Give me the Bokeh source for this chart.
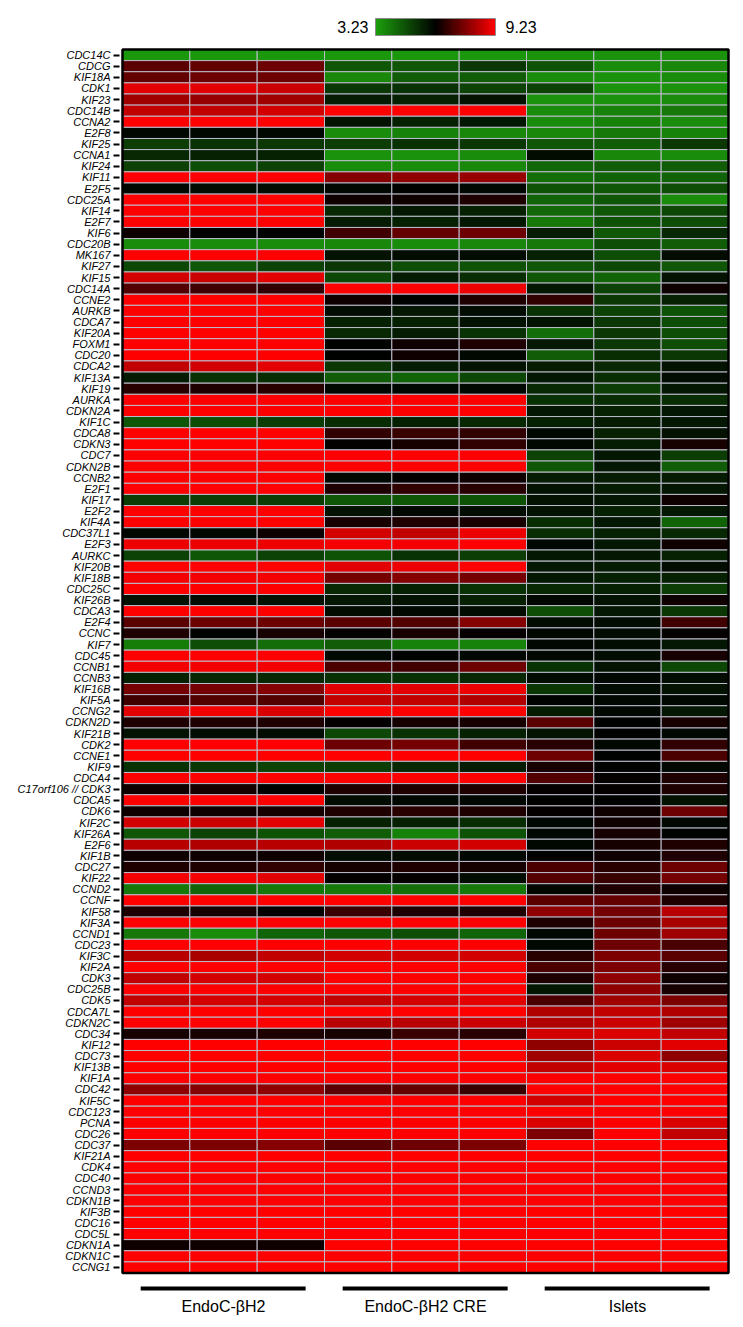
import numpy as np
from bokeh.plotting import figure
from bokeh.models import Range1d, FixedTicker, LinearColorMapper, ColumnDataSource
from bokeh.transform import transform
from bokeh.embed import file_html
from bokeh.resources import INLINE
from bokeh.core.properties import value

genes = ["CDC14C", "CDCG", "KIF18A", "CDK1", "KIF23", "CDC14B", "CCNA2", "E2F8", "KIF25", "CCNA1",
         "KIF24", "KIF11", "E2F5", "CDC25A", "KIF14", "E2F7", "KIF6", "CDC20B", "MK167", "KIF27",
         "KIF15", "CDC14A", "CCNE2", "AURKB", "CDCA7", "KIF20A", "FOXM1", "CDC20", "CDCA2", "KIF13A",
         "KIF19", "AURKA", "CDKN2A", "KIF1C", "CDCA8", "CDKN3", "CDC7", "CDKN2B", "CCNB2", "E2F1",
         "KIF17", "E2F2", "KIF4A", "CDC37L1", "E2F3", "AURKC", "KIF20B", "KIF18B", "CDC25C", "KIF26B",
         "CDCA3", "E2F4", "CCNC", "KIF7", "CDC45", "CCNB1", "CCNB3", "KIF16B", "KIF5A", "CCNG2",
         "CDKN2D", "KIF21B", "CDK2", "CCNE1", "KIF9", "CDCA4", "C17orf106 // CDK3", "CDCA5", "CDK6", "KIF2C",
         "KIF26A", "E2F6", "KIF1B", "CDC27", "KIF22", "CCND2", "CCNF", "KIF58", "KIF3A", "CCND1",
         "CDC23", "KIF3C", "KIF2A", "CDK3", "CDC25B", "CDK5", "CDCA7L", "CDKN2C", "CDC34", "KIF12",
         "CDC73", "KIF13B", "KIF1A", "CDC42", "KIF5C", "CDC123", "PCNA", "CDC26", "CDC37", "KIF21A",
         "CDK4", "CDC40", "CCND3", "CDKN1B", "KIF3B", "CDC16", "CDC5L", "CDKN1A", "CDKN1C", "CCNG1"]

endoc_bh2 = [
    (3.4, 3.4, 3.4), (7.3, 7.4, 7.5), (7.4, 7.5, 7.5), (8.9, 8.9, 8.6), (8.1, 8.0, 8.1),
    (8.5, 8.5, 8.7), (9.5, 9.5, 9.5), (6.1, 6.1, 6.1), (5.1, 5.3, 5.2), (5.5, 5.6, 5.6),
    (5.0, 4.8, 5.0), (9.5, 9.5, 9.5), (6.1, 6.0, 6.0), (9.5, 9.5, 9.5), (9.5, 9.5, 9.5),
    (9.5, 9.5, 9.5), (6.4, 6.2, 6.2), (3.6, 3.6, 3.6), (9.5, 9.5, 9.5), (4.9, 4.6, 5.0),
    (8.7, 8.6, 8.9), (7.2, 7.0, 6.8), (9.5, 9.5, 9.5), (9.5, 9.5, 9.5), (9.5, 9.5, 9.5),
    (9.5, 9.5, 9.5), (9.5, 9.5, 9.5), (9.5, 9.5, 9.5), (8.5, 8.7, 8.9), (5.7, 5.3, 5.4),
    (6.7, 6.6, 6.7), (9.5, 9.5, 9.5), (9.5, 9.5, 9.5), (4.6, 4.8, 5.1), (9.5, 9.5, 9.5),
    (9.5, 9.5, 9.5), (9.5, 9.5, 9.5), (9.5, 9.5, 9.5), (9.5, 9.5, 9.5), (9.5, 9.5, 9.5),
    (5.1, 5.1, 5.1), (9.5, 9.5, 9.5), (9.5, 9.5, 9.5), (6.1, 6.1, 6.4), (9.0, 9.0, 9.0),
    (5.0, 4.6, 5.0), (9.5, 9.5, 9.5), (9.1, 9.1, 9.1), (9.5, 9.5, 9.5), (5.9, 6.0, 5.9),
    (9.5, 9.5, 9.5), (7.3, 7.5, 7.5), (6.6, 6.2, 6.5), (3.9, 4.8, 4.2), (9.5, 9.5, 9.5),
    (9.1, 9.1, 9.1), (5.6, 5.5, 5.5), (7.6, 7.6, 7.8), (7.0, 7.2, 7.2), (8.9, 9.1, 8.8),
    (6.6, 6.6, 6.6), (5.9, 6.0, 6.0), (9.5, 9.5, 9.5), (9.5, 9.5, 9.5), (5.3, 5.2, 5.0),
    (9.5, 9.5, 9.5), (6.4, 6.5, 6.2), (9.5, 9.5, 9.5), (6.4, 6.4, 6.5), (8.7, 8.6, 8.9),
    (4.6, 5.0, 4.7), (8.4, 8.3, 8.4), (6.4, 6.4, 6.4), (6.6, 6.6, 6.8), (9.1, 9.1, 8.9),
    (4.0, 4.4, 4.0), (9.5, 9.5, 9.5), (6.6, 6.5, 6.3), (9.5, 9.5, 9.5), (4.0, 3.6, 4.4),
    (9.5, 9.5, 9.5), (8.4, 8.2, 8.5), (9.5, 9.5, 9.5), (8.5, 8.7, 8.7), (9.5, 9.5, 9.5),
    (8.5, 8.7, 8.7), (9.5, 9.5, 9.5), (9.5, 9.5, 9.5), (6.5, 6.5, 6.6), (9.5, 9.5, 9.5),
    (9.5, 9.5, 9.5), (9.5, 9.5, 9.5), (9.5, 9.5, 9.5), (7.9, 7.8, 7.9), (9.5, 9.5, 9.5),
    (9.5, 9.5, 9.5), (9.5, 9.5, 9.5), (9.5, 9.5, 9.5), (7.7, 7.7, 7.8), (9.5, 9.5, 9.5),
    (9.5, 9.5, 9.5), (9.5, 9.5, 9.5), (9.5, 9.5, 9.5), (9.5, 9.5, 9.5), (9.5, 9.5, 9.5),
    (9.5, 9.5, 9.5), (9.5, 9.5, 9.5), (6.4, 6.4, 6.4), (9.5, 9.5, 9.5), (9.5, 9.5, 9.5),
]

endoc_bh2_cre = [
    (3.4, 3.4, 3.4), (4.6, 4.6, 5.2), (3.7, 4.5, 4.5), (5.2, 5.3, 5.0), (5.7, 5.6, 5.9),
    (9.5, 9.5, 9.5), (5.9, 5.6, 5.8), (3.6, 3.8, 3.7), (5.1, 5.3, 5.2), (3.5, 3.5, 3.6),
    (3.6, 3.6, 3.7), (7.8, 7.9, 8.0), (6.1, 6.2, 6.1), (6.4, 6.4, 6.6), (5.5, 5.8, 5.6),
    (5.7, 5.6, 5.8), (7.0, 7.4, 7.5), (3.7, 3.6, 3.7), (5.9, 6.0, 6.0), (5.2, 4.8, 4.7),
    (4.9, 5.7, 5.4), (9.5, 9.5, 9.0), (6.4, 6.2, 6.6), (6.0, 5.8, 6.0), (5.6, 5.6, 5.9),
    (5.5, 5.7, 5.3), (6.2, 6.4, 6.6), (6.2, 6.4, 6.1), (5.2, 5.7, 5.9), (4.5, 4.4, 4.9),
    (6.1, 6.1, 6.1), (9.5, 9.5, 9.5), (9.5, 9.5, 9.5), (5.4, 5.6, 5.5), (6.8, 6.9, 6.8),
    (6.3, 6.5, 6.8), (9.5, 9.5, 9.5), (9.5, 9.5, 9.5), (6.1, 6.3, 6.4), (6.6, 6.8, 6.7),
    (4.6, 4.6, 4.7), (5.9, 6.1, 6.0), (6.5, 6.6, 6.5), (8.7, 8.5, 9.0), (9.1, 9.1, 9.3),
    (4.7, 5.3, 5.1), (8.9, 9.0, 9.3), (7.6, 7.8, 7.6), (5.5, 5.6, 5.3), (5.8, 5.9, 5.6),
    (6.0, 6.1, 6.0), (7.3, 7.2, 7.8), (6.3, 6.5, 6.3), (4.5, 3.8, 3.8), (6.1, 6.2, 6.1),
    (7.1, 7.0, 7.5), (5.3, 5.3, 5.5), (8.9, 8.9, 9.0), (8.5, 8.5, 8.3), (9.5, 9.5, 9.5),
    (6.3, 6.5, 6.5), (4.9, 5.3, 5.6), (7.5, 7.6, 7.0), (9.5, 9.5, 9.5), (5.1, 5.5, 5.7),
    (9.5, 9.5, 9.5), (6.6, 6.6, 6.6), (6.0, 6.1, 6.1), (6.6, 6.7, 6.6), (5.6, 5.6, 5.4),
    (4.5, 3.8, 4.7), (8.3, 8.6, 8.7), (6.0, 6.0, 6.1), (6.5, 6.6, 6.5), (6.3, 6.3, 6.0),
    (4.0, 4.2, 4.0), (9.5, 9.5, 9.5), (6.9, 6.6, 6.6), (9.5, 9.5, 9.5), (4.6, 4.8, 4.4),
    (9.5, 9.5, 9.5), (8.7, 8.7, 8.7), (9.5, 9.5, 9.5), (9.5, 9.5, 9.5), (9.5, 9.5, 9.5),
    (8.5, 8.7, 8.9), (9.5, 9.5, 9.5), (8.4, 8.4, 8.6), (6.5, 6.9, 6.7), (9.5, 9.5, 9.5),
    (9.5, 9.5, 9.5), (9.5, 9.5, 9.5), (9.5, 9.5, 9.5), (7.3, 7.4, 6.9), (9.5, 9.5, 9.5),
    (9.5, 9.5, 9.5), (9.5, 9.5, 9.5), (9.5, 9.5, 9.5), (7.3, 7.5, 7.7), (9.5, 9.5, 9.5),
    (9.5, 9.5, 9.5), (9.5, 9.5, 9.5), (9.5, 9.5, 9.5), (9.5, 9.5, 9.5), (9.5, 9.5, 9.5),
    (9.5, 9.5, 9.5), (9.5, 9.5, 9.5), (9.5, 9.5, 9.5), (9.5, 9.5, 9.5), (9.5, 9.5, 9.5),
]

islets = [
    (3.5, 3.5, 3.5), (4.7, 3.6, 3.7), (3.6, 3.5, 3.6), (5.0, 3.5, 3.5), (3.5, 3.5, 3.6),
    (3.6, 3.8, 4.0), (3.6, 3.8, 3.6), (3.7, 4.0, 3.8), (4.6, 4.5, 5.2), (6.0, 3.7, 3.6),
    (4.3, 4.5, 4.5), (4.2, 4.4, 4.4), (4.7, 4.6, 4.8), (4.4, 4.6, 3.6), (4.3, 4.6, 4.9),
    (4.0, 4.7, 4.8), (5.7, 4.6, 5.5), (4.0, 4.8, 4.5), (5.6, 4.8, 6.0), (4.6, 4.9, 4.6),
    (4.6, 4.4, 5.9), (5.8, 5.0, 6.4), (6.8, 5.2, 5.6), (5.3, 5.0, 4.7), (5.9, 5.2, 4.8),
    (4.2, 5.2, 4.8), (5.8, 5.2, 4.8), (4.5, 5.4, 5.2), (5.7, 5.5, 5.9), (5.8, 5.4, 6.0),
    (5.5, 5.1, 5.8), (5.3, 5.4, 5.4), (5.8, 5.6, 5.8), (5.6, 5.7, 5.8), (6.1, 5.6, 5.9),
    (6.1, 5.7, 6.5), (5.0, 5.8, 5.1), (4.6, 5.8, 4.5), (5.7, 5.7, 5.7), (5.9, 5.7, 5.8),
    (5.9, 5.8, 6.4), (5.9, 5.6, 5.8), (5.4, 5.8, 4.4), (5.4, 5.6, 5.5), (6.1, 5.8, 6.4),
    (5.8, 5.8, 5.6), (5.8, 5.7, 6.0), (5.8, 5.6, 5.6), (5.5, 5.6, 5.1), (6.1, 5.9, 6.4),
    (4.8, 5.8, 5.2), (6.0, 6.0, 7.0), (6.1, 6.0, 6.3), (6.1, 6.0, 5.8), (6.1, 6.0, 6.5),
    (5.3, 5.9, 4.9), (6.0, 6.1, 6.0), (5.2, 6.0, 5.9), (6.2, 6.1, 6.1), (5.7, 6.1, 5.8),
    (7.3, 6.2, 6.5), (5.9, 6.2, 6.1), (6.7, 6.1, 6.8), (7.5, 6.2, 7.1), (6.5, 6.2, 6.1),
    (7.2, 6.3, 6.6), (6.3, 6.3, 6.6), (6.2, 6.2, 5.9), (6.3, 6.4, 7.5), (6.1, 6.4, 6.1),
    (6.1, 6.5, 6.2), (6.1, 6.5, 6.6), (6.2, 6.4, 6.6), (7.1, 6.7, 7.5), (7.2, 6.9, 7.6),
    (6.1, 6.6, 6.4), (7.3, 7.4, 6.6), (7.9, 7.6, 8.4), (6.6, 7.5, 8.2), (6.1, 7.5, 8.1),
    (6.1, 7.5, 7.1), (6.7, 7.7, 7.3), (7.1, 7.7, 6.7), (6.6, 7.9, 6.4), (5.8, 7.9, 6.5),
    (7.1, 8.1, 7.7), (8.3, 8.5, 8.3), (8.3, 8.6, 8.1), (8.7, 8.8, 8.5), (7.9, 8.6, 8.9),
    (8.1, 8.8, 7.9), (8.5, 8.9, 8.8), (9.5, 9.5, 9.5), (9.5, 9.5, 9.5), (8.7, 9.5, 9.5),
    (9.5, 9.5, 9.5), (8.8, 9.5, 8.8), (7.7, 9.5, 8.5), (9.5, 9.5, 9.5), (9.5, 9.5, 9.5),
    (9.5, 9.5, 9.5), (9.5, 9.5, 9.5), (9.5, 9.5, 9.5), (9.5, 9.5, 9.5), (9.5, 9.5, 9.5),
    (9.5, 9.5, 9.5), (9.5, 9.5, 9.5), (9.5, 9.5, 9.5), (9.5, 9.5, 9.5), (9.5, 9.5, 9.5),
]

groups = ["EndoC-\u03b2H2", "EndoC-\u03b2H2 CRE", "Islets"]
scale_low, scale_high = 3.23, 9.23
scale_labels = ["3.23", "9.23"]

# ---------------- palette: green -> black -> red ----------------
green_end = (28, 160, 12)
palette = []
for i in range(256):
    t = i / 255.0
    if t < 0.5:
        s = 1 - t / 0.5
        r, g, b = (int(round(c * s)) for c in green_end)
    else:
        s = (t - 0.5) / 0.5
        r, g, b = int(round(255 * s)), 0, 0
    palette.append("#%02x%02x%02x" % (r, g, b))
mapper = LinearColorMapper(palette=palette, low=scale_low, high=scale_high)

# ---------------- cell table ----------------
n = len(genes)
ncol = 3 * len(groups)
xs, ys, vals = [], [], []
for i, g in enumerate(genes):
    row = list(endoc_bh2[i]) + list(endoc_bh2_cre[i]) + list(islets[i])
    for j, v in enumerate(row):
        xs.append(j + 0.5)
        ys.append(n - i)
        vals.append(v)
src = ColumnDataSource(dict(x=xs, y=ys, v=vals))

# ---------------- geometry (figure px) ----------------
W, H = 735, 1319
hm_left, hm_right = 122, 728
hm_top, hm_bot = 49, 1272.5
col_px = (hm_right - hm_left) / ncol
row_px = (hm_bot - hm_top) / n
fl, fr = 119, 732
x0 = -(hm_left - fl) / col_px
x1 = ncol + (fr - hm_right) / col_px
y1 = n + 0.5 + hm_top / row_px
y0 = 0.5 - (H - hm_bot) / row_px

p = figure(width=W, height=H, x_range=Range1d(x0, x1), y_range=Range1d(y0, y1),
           output_backend="svg", toolbar_location=None,
           min_border_left=fl, min_border_right=W - fr, min_border_top=0, min_border_bottom=0)
p.outline_line_color = None
p.grid.visible = False
p.xaxis.visible = False
p.background_fill_color = "white"

ya = p.yaxis[0]
ya.ticker = FixedTicker(ticks=list(range(1, n + 1)))
ya.major_label_overrides = {n - i: g for i, g in enumerate(genes)}
ya.axis_line_color = None
ya.minor_tick_line_color = None
ya.major_tick_line_color = "black"
ya.major_tick_line_width = 2
ya.major_tick_out = 6
ya.major_tick_in = 0
ya.major_label_standoff = 3
ya.major_label_text_font = "Liberation Sans"
ya.major_label_text_font_style = "italic"
ya.major_label_text_font_size = "11px"
ya.major_label_text_color = "black"

p.rect(x="x", y="y", width=1, height=1, source=src,
       fill_color=transform("v", mapper), line_color="#bcbccb", line_width=1)
p.quad(left=[0], right=[ncol], bottom=[0.5], top=[n + 0.5],
       fill_color=None, line_color="black", line_width=2.5)

# ---------------- colour scale ----------------
cb_x0 = (375 - hm_left) / col_px
cb_x1 = (495 - hm_left) / col_px
cb_y0 = n + 0.5 + (hm_top - 35) / row_px
cb_y1 = n + 0.5 + (hm_top - 18) / row_px
grad = np.linspace(scale_low, scale_high, 256).reshape(1, 256)
p.image(image=[grad], x=cb_x0, y=cb_y0, dw=cb_x1 - cb_x0, dh=cb_y1 - cb_y0, color_mapper=mapper)
p.quad(left=[cb_x0], right=[cb_x1], bottom=[cb_y0], top=[cb_y1],
       fill_color=None, line_color="#8a8a8a", line_width=1)
cb_mid = (cb_y0 + cb_y1) / 2
p.text(x=[cb_x0 - 7 / col_px], y=[cb_mid], text=[scale_labels[0]], text_align="right",
       text_baseline="middle", text_font=value("Liberation Sans"), text_font_size="16px", text_color="black")
p.text(x=[cb_x1 + 10 / col_px], y=[cb_mid], text=[scale_labels[1]], text_align="left",
       text_baseline="middle", text_font=value("Liberation Sans"), text_font_size="16px", text_color="black")

# ---------------- group bars and labels ----------------
line_y = 0.5 - 15.5 / row_px
label_y = 0.5 - 33.5 / row_px
gx0 = [3 * k + 0.27 for k in range(len(groups))]
gx1 = [3 * k + 2.72 for k in range(len(groups))]
p.segment(x0=gx0, x1=gx1, y0=[line_y] * len(groups), y1=[line_y] * len(groups),
          line_color="black", line_width=4)
p.text(x=[3 * k + 1.5 for k in range(len(groups))], y=[label_y] * len(groups), text=groups,
       text_align="center", text_baseline="middle", text_font=value("Liberation Sans"),
       text_font_size="16px", text_color="black")

open("out.html", "w").write(file_html(p, INLINE))
